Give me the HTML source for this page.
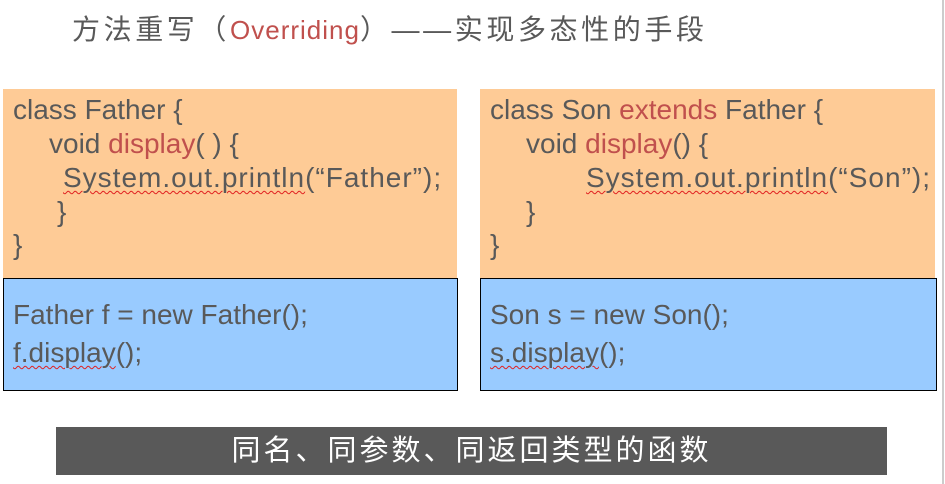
<!DOCTYPE html>
<html><head><meta charset="utf-8"><style>
body{margin:0;width:945px;height:484px;background:#fff;position:relative;overflow:hidden;font-family:"Liberation Sans","Noto Sans CJK SC",sans-serif;color:#595959}
.a{position:absolute}
.r{color:#c0504d}
.t{position:absolute;font-size:28px;white-space:nowrap;line-height:34px}
.w{text-decoration:underline wavy #e02020;text-decoration-thickness:1px;text-underline-offset:3px}
</style></head><body>
<div class="a" style="left:72px;top:12px;font-size:28px;letter-spacing:3.6px;white-space:nowrap;line-height:36px">方法重写（<span class="r" style="font-size:26px;letter-spacing:1px">Overriding</span>）——实现多态性的手段</div>
<div class="a" style="left:942px;top:0;width:2px;height:484px;background:#ccc"></div>

<div class="a" style="left:3px;top:89px;width:454px;height:189px;background:#fecb96"></div>
<div class="a" style="left:3px;top:278px;width:453px;height:111px;background:#99cbff;border:1px solid #000"></div>
<div class="a" style="left:480px;top:89px;width:455px;height:189px;background:#fecb96"></div>
<div class="a" style="left:480px;top:278px;width:455px;height:111px;background:#99cbff;border:1px solid #000"></div>

<div class="t" style="left:13px;top:93px">class Father {</div>
<div class="t" style="left:49px;top:127px">void <span class="r">display</span>( ) {</div>
<div class="t" style="left:63px;top:161px;letter-spacing:1px"><span class="w">System.out.println</span>(“Father”);</div>
<div class="t" style="left:57px;top:195px">}</div>
<div class="t" style="left:13px;top:228px">}</div>
<div class="t" style="left:13px;top:298px">Father f = new Father();</div>
<div class="t" style="left:13px;top:336px"><span class="w">f.display</span>();</div>

<div class="t" style="left:490px;top:93px">class Son <span class="r">extends</span> Father {</div>
<div class="t" style="left:526px;top:127px">void <span class="r">display</span>() {</div>
<div class="t" style="left:586px;top:161px;letter-spacing:1px"><span class="w">System.out.println</span>(“Son”);</div>
<div class="t" style="left:526px;top:195px">}</div>
<div class="t" style="left:490px;top:228px">}</div>
<div class="t" style="left:490px;top:298px">Son s = new Son();</div>
<div class="t" style="left:490px;top:336px"><span class="w">s.display</span>();</div>

<div class="a" style="left:56px;top:427px;width:831px;height:48px;background:#595959;color:#fff;font-size:29px;letter-spacing:3px;line-height:48px;text-align:center">同名、同参数、同返回类型的函数</div>
</body></html>
